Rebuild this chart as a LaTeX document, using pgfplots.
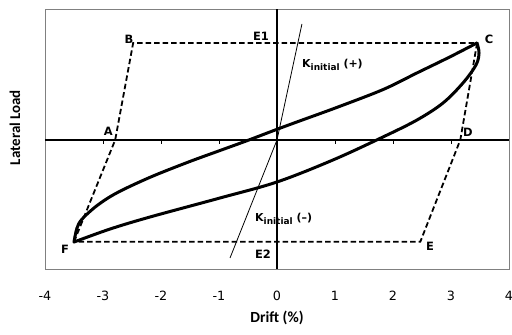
\documentclass[border=0pt]{standalone}
\usepackage{pgfplots}
\pgfplotsset{compat=1.18}
\usepackage{fontspec}
\setmainfont{DejaVu Sans}
\newfontfamily\carl{Carlito}
\newcommand{\ptl}{\bfseries\fontsize{11.5}{12}\selectfont}
\newcommand{\sub}[1]{\raisebox{-2.2bp}{\fontsize{9}{9}\selectfont #1}}
\begin{document}
\begin{tikzpicture}
\begin{axis}[name=ax, scale only axis, width=464bp, height=260bp,
  xmin=-4, xmax=4, ymin=-1.33, ymax=1.35,
  xtick={-4,...,4}, ytick=\empty,
  major tick length=0pt,
  axis line style={draw=gray, line width=0.8bp},
  /pgf/number format/assume math mode=true,
  xticklabel style={font=\fontsize{12.8}{13}\selectfont, anchor=base, yshift=-31bp},
  xlabel={Drift (\%)}, ylabel={Lateral Load},
  xlabel style={font=\carl\bfseries\fontsize{15.5}{16}\selectfont, at={(axis description cs:0.5,-0.188)}, anchor=center},
  ylabel style={font=\carl\bfseries\fontsize{15}{16}\selectfont, at={(axis description cs:-0.0647,0.544)}, anchor=center},
  clip=false]
% zero lines
\addplot[black, line width=1.8bp] coordinates {(-4,0) (4,0)};
\addplot[black, line width=1.8bp] coordinates {(0,-1.33) (0,1.35)};
% ticks on zero line
\addplot[ycomb, black, line width=0.9bp, mark=none] coordinates {(-3,-0.045) (-2,-0.045) (-1,-0.045) (1,-0.045) (2,-0.045) (3,-0.045)};
% dashed envelope
\addplot[black, line width=1.8bp, dash pattern=on 5.5bp off 3bp] coordinates {(-3.5,-1.05) (-2.79,0) (-2.48,1) (3.45,1)};
\addplot[black, line width=1.8bp, dash pattern=on 5.5bp off 3bp] coordinates {(3.45,1) (3.16,0) (2.47,-1.05) (-3.5,-1.05)};
% initial stiffness lines
\addplot[black, line width=0.8bp] coordinates {(0,0) (0.43,1.196)};
\addplot[black, line width=0.8bp] coordinates {(0,0) (-0.81,-1.216)};
% hysteresis loop: upper branch
\addplot[black, line width=3bp, smooth, tension=0.55, line join=round, line cap=round] coordinates {
(-3.50,-1.052) (-3.45,-0.91) (-3.36,-0.815) (-3.10,-0.675) (-2.76,-0.545) (-2.19,-0.385) (-1.53,-0.228) (-0.98,-0.108) (-0.52,-0.008) (0,0.11) (0.40,0.198) (1.03,0.335) (1.83,0.52) (2.41,0.69) (2.98,0.856) (3.448,1.0)};
% lower branch
\addplot[black, line width=3bp, smooth, tension=0.55, line join=round, line cap=round] coordinates {
(3.448,1.0) (3.483,0.897) (3.431,0.773) (3.207,0.588) (2.862,0.381) (2.414,0.206) (1.828,0.031) (0.966,-0.206) (0,-0.433) (-0.983,-0.598) (-2.190,-0.794) (-2.879,-0.918) (-3.50,-1.052)};
% point labels
\node[font=\ptl] at (axis cs:-2.55,1.041) {B};
\node[font=\ptl] at (axis cs:-2.91,0.093) {A};
\node[font=\ptl] at (axis cs:-0.276,1.072) {E1};
\node[font=\ptl] at (axis cs:3.655,1.041) {C};
\node[font=\ptl] at (axis cs:3.293,0.082) {D};
\node[font=\ptl] at (axis cs:2.638,-1.093) {E};
\node[font=\ptl] at (axis cs:-0.241,-1.175) {E2};
\node[font=\ptl] at (axis cs:-3.655,-1.124) {F};
\node[font=\bfseries\fontsize{11}{12}\selectfont, anchor=base west, inner sep=0pt] at (axis cs:0.431,0.742) {K\sub{initial} (+)};
\node[font=\bfseries\fontsize{11}{12}\selectfont, anchor=base west, inner sep=0pt] at (axis cs:-0.379,-0.845) {K\sub{initial} (--)};
\end{axis}
\pgfresetboundingbox
\path[use as bounding box] ([xshift=-45bp,yshift=-65bp]ax.south west) rectangle ([xshift=3bp,yshift=9bp]ax.north east);
\end{tikzpicture}
\end{document}
